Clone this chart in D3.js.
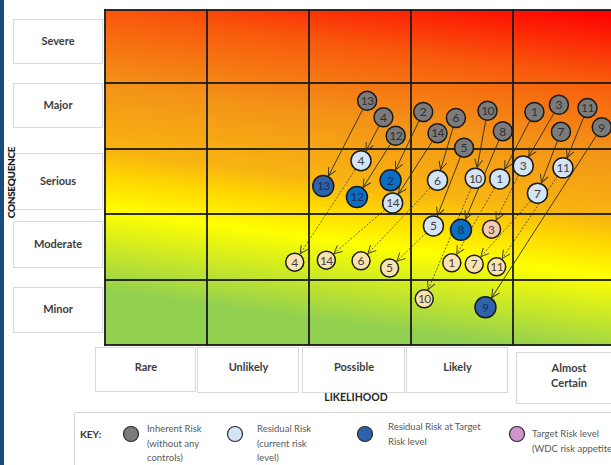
<!DOCTYPE html>
<html>
<head>
<meta charset="utf-8">
<script src="https://cdn.jsdelivr.net/npm/d3@7"></script>
<style>
  body { margin: 0; background: #fff; }
  svg { display: block; font-family: Lato, "Open Sans", "Liberation Sans", sans-serif; }
</style>
</head>
<body>
<svg id="chart" width="611" height="465"></svg>
<script>
// Axis categories (low -> high)
const likelihood = ["Rare", "Unlikely", "Possible", "Likely", "Almost Certain"];
const consequence = ["Minor", "Moderate", "Serious", "Major", "Severe"];

// Risk register: position of each risk in grid units
// (0..5 along likelihood, 0..5 along consequence)
const riskIds = [1, 2, 3, 4, 5, 6, 7, 8, 9, 10, 11, 12, 13, 14];
const inherentL = [4.21, 3.12, 4.45, 2.73, 3.52, 3.44, 4.47, 3.90, 4.87, 3.75, 4.73, 2.85, 2.57, 3.26];
const inherentC = [3.56, 3.56, 3.67, 3.48, 3.02, 3.47, 3.26, 3.27, 3.33, 3.58, 3.62, 3.20, 3.73, 3.24];
const residualL = [3.87, 2.80, 4.10, 2.51, 3.22, 3.26, 4.24, 3.49, 3.73, 3.63, 4.49, 2.47, 2.14, 2.82];
const residualC = [2.54, 2.52, 2.74, 2.82, 1.82, 2.52, 2.32, 1.76, 0.58, 2.55, 2.71, 2.26, 2.43, 2.17];
const residualAtTarget = [false, true, false, false, false, false, false, true, true, false, false, true, true, false];
const targetL = [3.40, null, 3.79, 1.86, 2.79, 2.51, 3.62, null, null, 3.13, 3.84, null, null, 2.17];
const targetC = [1.26, null, 1.77, 1.27, 1.18, 1.29, 1.24, null, null, 0.71, 1.20, null, null, 1.30];

// Legend entries
const keyKinds = ["inherent", "residual", "atTarget", "appetite"];
const keyLabels = [
  ["Inherent Risk", "(without any", "controls)"],
  ["Residual Risk", "(current risk", "level)"],
  ["Residual Risk at Target", "Risk level"],
  ["Target Risk level", "(WDC risk appetite)"]
];

// ---- styling ----
const fills = {
  inherent: "#7b7b7b",
  residual: "#d3e4f5",
  atTarget: "#2f62ad",
  atTargetBright: "#0a6fc2",
  target: "#fbe3b0",
  targetAlt: "#f5c9b6",
  appetite: "#cf95cf"
};
const radius = { inherent: 9.5, residual: 10, atTarget: 10.5, target: 9 };
const brightAtTarget = new Set([2, 8, 12]);   // shade variant for these risks
const altTarget = new Set([3]);

const svg = d3.select("#chart");

// Scales: grid units -> pixels
const x = d3.scaleLinear().domain([0, 5]).range([105, 615]);
const y = d3.scaleLinear().domain([0, 1, 2, 3, 4, 5]).range([345, 280, 214, 149, 83, 10]);

// Left page stripe
svg.append("rect").attr("x", 0).attr("y", 0).attr("width", 4).attr("height", 465).attr("fill", "#164d7c");

// ---- heat-map background ----
const defs = svg.append("defs");
const grad = defs.append("linearGradient")
  .attr("id", "riskGrad")
  .attr("gradientUnits", "userSpaceOnUse")
  .attr("x1", -36.2).attr("y1", 272.8)
  .attr("x2", 8.95).attr("y2", -67.4);
[[0, "#92d050"], [0.236, "#ffff00"], [0.33, "#ffd800"], [0.405, "#f8b510"],
 [0.598, "#f39318"], [0.802, "#f85a0c"], [1, "#ff0000"]]
  .forEach(([o, c]) => grad.append("stop").attr("offset", o).attr("stop-color", c));

function marker(id, color) {
  defs.append("marker")
    .attr("id", id)
    .attr("viewBox", "-10 -6 12 12")
    .attr("markerWidth", 12).attr("markerHeight", 12)
    .attr("markerUnits", "userSpaceOnUse")
    .attr("refX", 0).attr("refY", 0)
    .attr("orient", "auto")
    .append("path")
    .attr("d", "M-8,-4 L0,0 L-8,4")
    .attr("fill", "none")
    .attr("stroke", color)
    .attr("stroke-width", 0.9);
}
marker("arrowSolid", "#2a2a2a");
marker("arrowDash", "#3a3a3a");

svg.append("rect")
  .attr("x", x(0)).attr("y", y(5))
  .attr("width", x(5) - x(0)).attr("height", y(0) - y(5))
  .attr("fill", "url(#riskGrad)");

const gridG = svg.append("g").attr("stroke", "#1c1c1c").attr("stroke-width", 2).attr("stroke-opacity", 0.92);
d3.range(0, 6).forEach(i => {
  gridG.append("line").attr("x1", x(i)).attr("x2", x(i)).attr("y1", y(5) - 1).attr("y2", y(0) + 1);
  gridG.append("line").attr("x1", x(0) - 1).attr("x2", x(5)).attr("y1", y(i)).attr("y2", y(i));
});

// ---- axis tiles ----
const tileText = "#3d3d3d";
// consequence tiles: [top nudge, bottom nudge] relative to row edges
const rowNudge = [[7, -13], [7, -13], [4, -5], [0, -22], [9, -20]];
consequence.forEach((c, i) => {
  const top = y(i + 1) + rowNudge[i][0];
  const bot = y(i) + rowNudge[i][1];
  svg.append("rect").attr("x", 13.5).attr("y", top + 0.5).attr("width", 89).attr("height", bot - top)
    .attr("fill", "#fff").attr("stroke", "#d9d9d9").attr("stroke-width", 1);
  svg.append("text").attr("x", 58).attr("y", (top + bot) / 2)
    .attr("dy", "0.35em").attr("text-anchor", "middle")
    .attr("font-size", 11).attr("font-weight", 700).attr("fill", tileText)
    .text(c);
});

svg.append("text")
  .attr("transform", `translate(15,${(y(1) + y(4)) / 2 + 1}) rotate(-90)`)
  .attr("text-anchor", "middle")
  .attr("font-size", 10).attr("font-weight", 900).attr("fill", "#1a1a1a")
  .attr("letter-spacing", -0.3)
  .text("CONSEQUENCE");

// likelihood tiles: [left nudge, right nudge, top, bottom]
const colNudge = [[-10, -12, 347, 391], [-10, -11, 347, 392], [-7, -7, 347, 392], [-5, -6, 347, 392], [3, 5, 352, 403]];
likelihood.forEach((l, i) => {
  const [ln, rn, top, bot] = colNudge[i];
  const left = x(i) + ln, right = x(i + 1) + rn;
  svg.append("rect").attr("x", left + 0.5).attr("y", top + 0.5).attr("width", right - left).attr("height", bot - top)
    .attr("fill", "#fff").attr("stroke", "#d9d9d9").attr("stroke-width", 1);
  const words = l.split(" ");
  const cy = (top + bot) / 2 - 2;
  words.forEach((w, k) => {
    svg.append("text")
      .attr("x", (left + right) / 2 + 1)
      .attr("y", cy + (k - (words.length - 1) / 2) * 15)
      .attr("dy", "0.35em").attr("text-anchor", "middle")
      .attr("font-size", 11).attr("font-weight", 700).attr("fill", tileText)
      .text(w);
  });
});

svg.append("text").attr("x", 356).attr("y", 397).attr("dy", "0.35em").attr("text-anchor", "middle")
  .attr("font-size", 10.5).attr("font-weight", 700).attr("fill", "#262626")
  .text("LIKELIHOOD");

// ---- risk movements ----
const risks = riskIds.map((id, i) => ({
  id,
  inh: { l: inherentL[i], c: inherentC[i], kind: "inherent" },
  res: { l: residualL[i], c: residualC[i], kind: residualAtTarget[i] ? "atTarget" : "residual" },
  tgt: targetL[i] == null ? null : { l: targetL[i], c: targetC[i], kind: "target" }
}));

function trimmed(a, b) {
  const ax = x(a.l), ay = y(a.c), bx = x(b.l), by = y(b.c);
  const dx = bx - ax, dy = by - ay, len = Math.hypot(dx, dy);
  const ra = radius[a.kind] + 0.5, rb = radius[b.kind] + 1;
  return {
    x1: ax + dx / len * ra, y1: ay + dy / len * ra,
    x2: bx - dx / len * rb, y2: by - dy / len * rb
  };
}

const linkG = svg.append("g");
risks.forEach(r => {
  const s = trimmed(r.inh, r.res);
  linkG.append("line").attr("x1", s.x1).attr("y1", s.y1).attr("x2", s.x2).attr("y2", s.y2)
    .attr("stroke", "#2a2a2a").attr("stroke-width", 0.9)
    .attr("marker-end", "url(#arrowSolid)");
  if (r.tgt) {
    const t = trimmed(r.res, r.tgt);
    linkG.append("line").attr("x1", t.x1).attr("y1", t.y1).attr("x2", t.x2).attr("y2", t.y2)
      .attr("stroke", "#3a3a3a").attr("stroke-width", 0.8).attr("stroke-dasharray", "2,1.6")
      .attr("marker-end", "url(#arrowDash)");
  }
});

function fillFor(node, id) {
  if (node.kind === "atTarget") return brightAtTarget.has(id) ? fills.atTargetBright : fills.atTarget;
  if (node.kind === "target") return altTarget.has(id) ? fills.targetAlt : fills.target;
  return fills[node.kind];
}
function textFor(node) {
  if (node.kind === "inherent") return "#303030";
  if (node.kind === "atTarget") return "#1b2f55";
  return "#404040";
}

const nodes = [];
risks.forEach(r => {
  nodes.push({ id: r.id, n: r.inh });
  nodes.push({ id: r.id, n: r.res });
  if (r.tgt) nodes.push({ id: r.id, n: r.tgt });
});

const nodeG = svg.append("g").selectAll("g").data(nodes).join("g")
  .attr("transform", d => `translate(${x(d.n.l)},${y(d.n.c)})`);
nodeG.append("circle")
  .attr("r", d => radius[d.n.kind])
  .attr("fill", d => fillFor(d.n, d.id))
  .attr("stroke", "#1a1a1a").attr("stroke-width", 1.5);
nodeG.append("text")
  .attr("text-anchor", "middle").attr("dy", "0.36em")
  .attr("font-size", 12).attr("letter-spacing", d => d.id > 9 ? -0.6 : 0)
  .attr("fill", d => textFor(d.n))
  .text(d => d.id);

// ---- key ----
svg.append("rect").attr("x", 74.5).attr("y", 412.5).attr("width", 560).attr("height", 70)
  .attr("fill", "#fff").attr("stroke", "#d6d6d6");
svg.append("text").attr("x", 80).attr("y", 434).attr("dy", "0.35em")
  .attr("font-size", 10).attr("font-weight", 700).attr("fill", "#333").text("KEY:");

const keyX = [131, 235, 365, 517];
const keyTextX = [147, 257, 388, 532];
const keyTop = [429, 429, 427, 434];
keyKinds.forEach((k, i) => {
  svg.append("circle").attr("cx", keyX[i]).attr("cy", 434).attr("r", 7.5)
    .attr("fill", k === "atTarget" ? fills.atTarget : fills[k])
    .attr("stroke", "#2a2a2a").attr("stroke-width", 1.2);
  keyLabels[i].forEach((line, j) => {
    svg.append("text").attr("x", keyTextX[i]).attr("y", keyTop[i] + j * 14.5).attr("dy", "0.35em")
      .attr("font-size", 9.5).attr("fill", "#595959").text(line);
  });
});
</script>
</body>
</html>
